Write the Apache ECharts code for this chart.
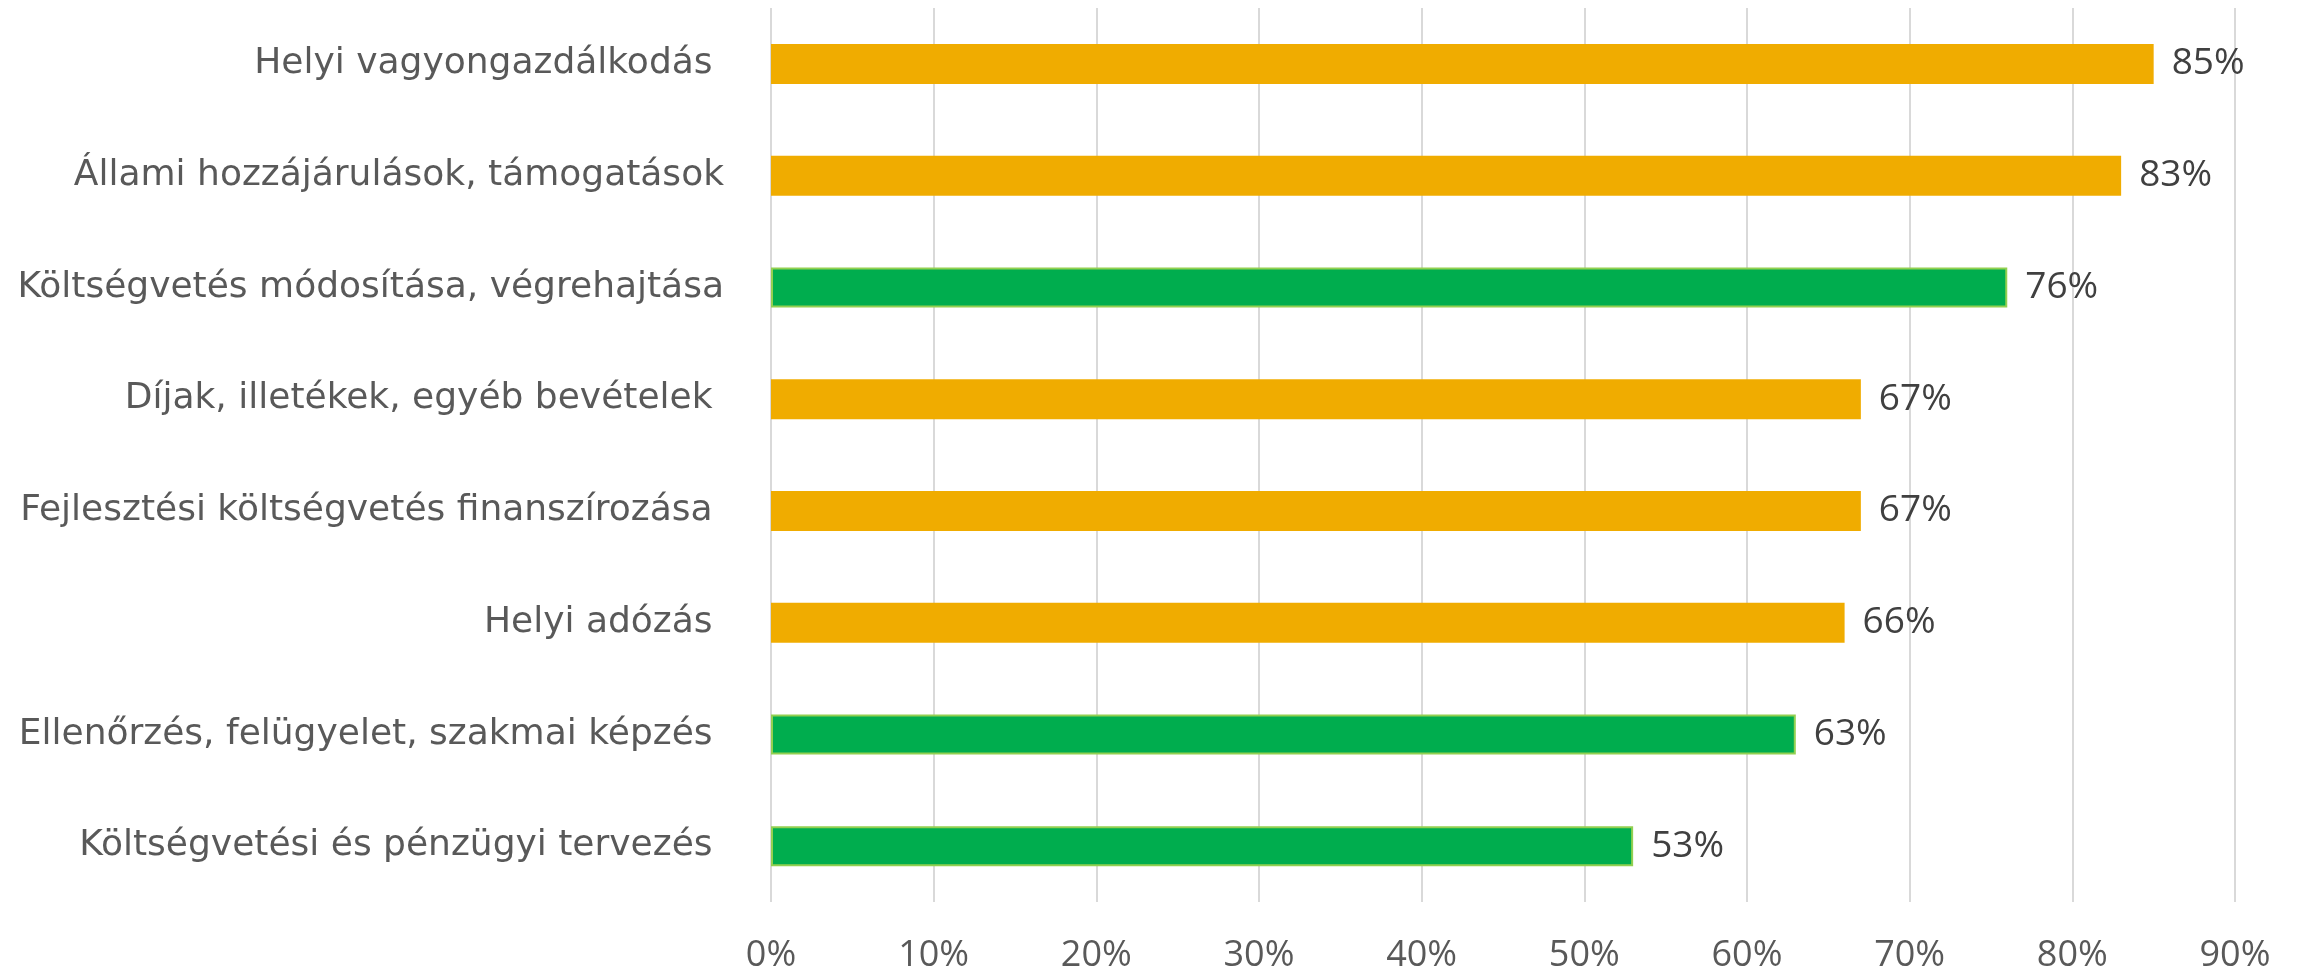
<!DOCTYPE html>
<html>
<head>
<meta charset="utf-8">
<script src="https://cdn.jsdelivr.net/npm/echarts@6/dist/echarts.min.js"></script>
<style>html,body{margin:0;padding:0;background:#fff}#c{width:2303px;height:976px}</style>
</head>
<body>
<div id="c"></div>
<script>
var categories = [
  "Helyi vagyongazdálkodás ",
  "Állami hozzájárulások, támogatások",
  "Költségvetés módosítása, végrehajtása",
  "Díjak, illetékek, egyéb bevételek ",
  "Fejlesztési költségvetés finanszírozása ",
  "Helyi adózás ",
  "Ellenőrzés, felügyelet, szakmai képzés ",
  "Költségvetési és pénzügyi tervezés "
];
var values = [85, 83, 76, 67, 67, 66, 63, 53];
var groups = ["orange", "orange", "green", "orange", "orange", "orange", "green", "green"];
var xTicks = { min: 0, max: 90, interval: 10 };

var styles = {
  orange: { color: "#F0AC00", borderColor: "#F0AC00", borderWidth: 0 },
  green: { color: "#00AD4E", borderColor: "#92D050", borderWidth: 2 }
};

var data = values.map(function (v, i) {
  return { value: v, itemStyle: styles[groups[i]] };
});

var chart = echarts.init(document.getElementById("c"));
chart.setOption({
  animation: false,
  backgroundColor: "#fff",
  grid: { left: 771, right: 68, top: 8, bottom: 74, containLabel: false },
  xAxis: {
    type: "value",
    min: xTicks.min, max: xTicks.max, interval: xTicks.interval,
    axisLine: { show: false },
    axisTick: { show: false },
    splitLine: { show: true, lineStyle: { color: "#D9D9D9", width: 2 } },
    axisLabel: {
      formatter: "{value}%",
      color: "#595959",
      fontFamily: "Open Sans",
      fontSize: 36,
      margin: 36
    }
  },
  yAxis: {
    type: "category",
    inverse: true,
    data: categories,
    axisLine: { show: false },
    axisTick: { show: false },
    axisLabel: {
      color: "#595959",
      fontFamily: "DejaVu Sans",
      fontSize: 36,
      margin: 47
    }
  },
  series: [{
    type: "bar",
    data: data,
    barWidth: 40,
    label: {
      show: true,
      position: "right",
      distance: 18,
      formatter: "{c}%",
      color: "#404040",
      fontFamily: "Open Sans",
      fontSize: 37
    }
  }]
});
</script>
</body>
</html>
